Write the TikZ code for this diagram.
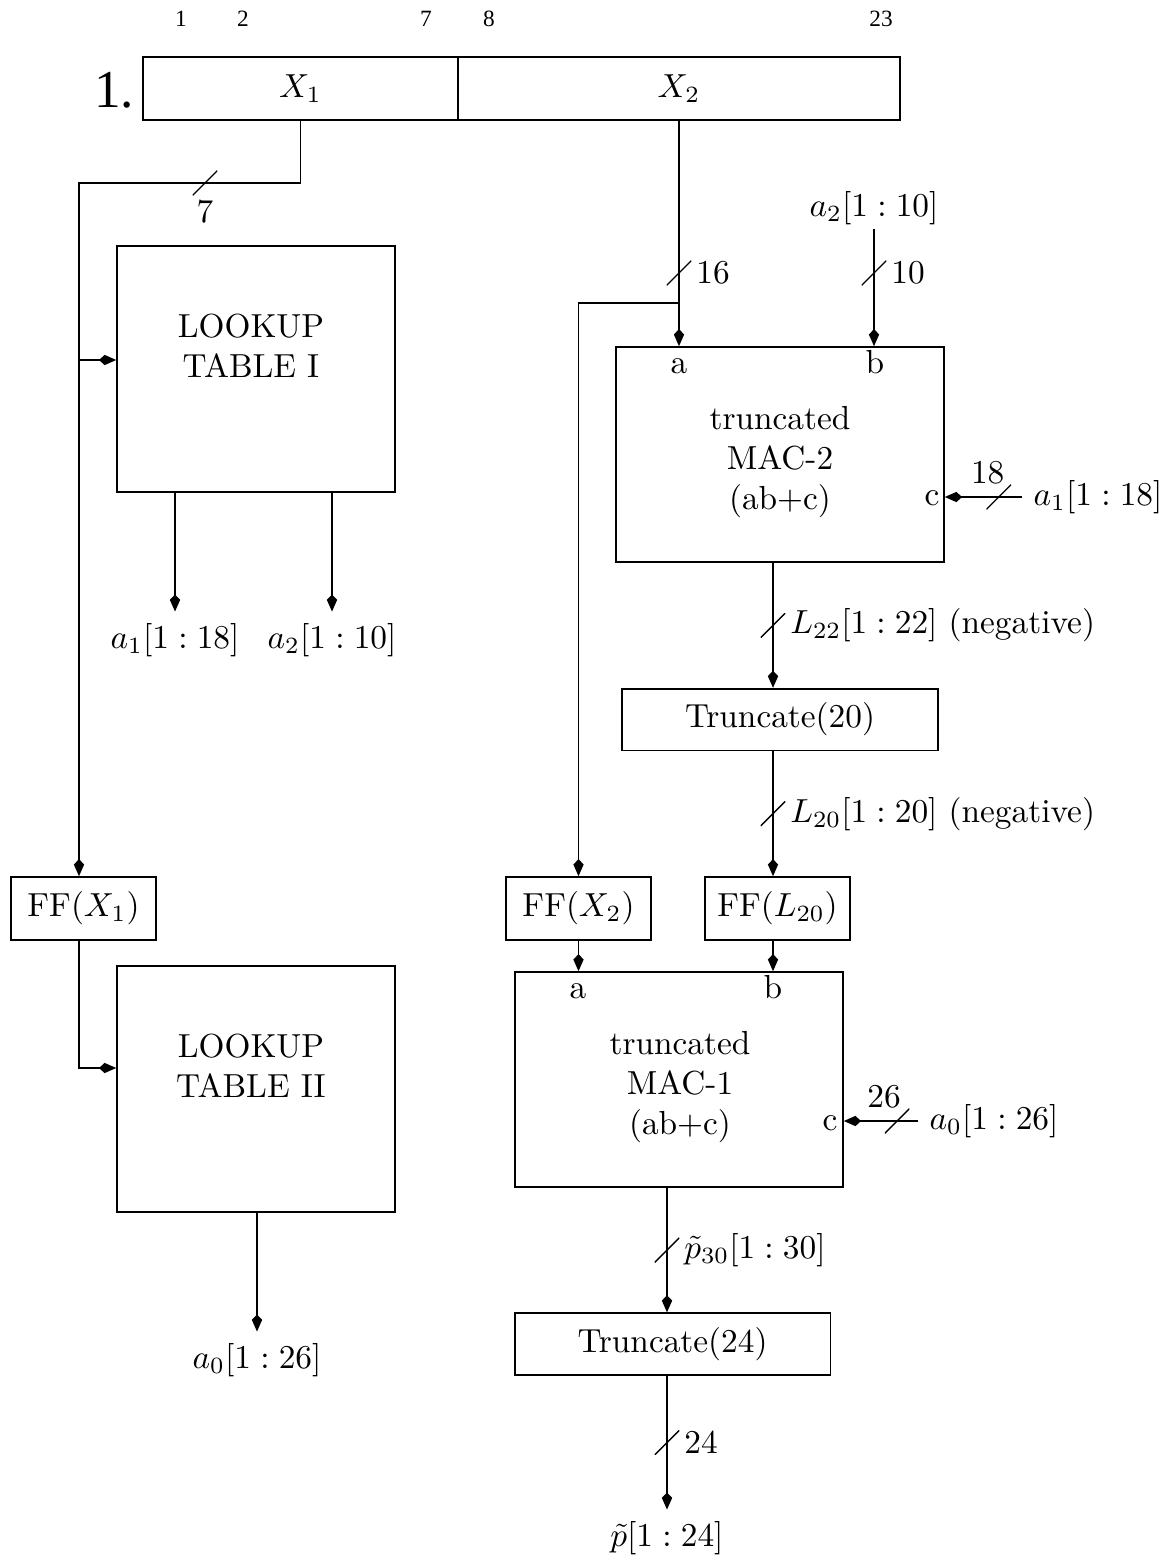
\documentclass[tikz,border=0pt]{standalone}
\usepackage{fontspec}
\newfontfamily\timesfont{Liberation Serif}
\usepackage{tikz}
\usetikzlibrary{arrows.meta, positioning, calc}

\begin{document}
\begin{tikzpicture}[
  x=0.3pt, y=-0.3pt,
  cell/.style={rectangle, draw, line width=0.5pt, outer sep=0pt,
    inner sep=0pt, minimum height=18.9pt},
  lut/.style={rectangle, draw, line width=0.5pt,
    minimum width=83.4pt, minimum height=73.8pt},
  mac/.style={rectangle, draw, line width=0.5pt,
    minimum width=98.4pt, minimum height=64.5pt},
  trunc/.style={rectangle, draw, line width=0.5pt,
    minimum width=94.7pt, minimum height=18.5pt},
  ff/.style={rectangle, draw, line width=0.5pt,
    minimum width=43.5pt, minimum height=18.9pt},
  txt/.style={align=center},
  port/.style={inner sep=0pt, anchor=base},
  lbl/.style={inner sep=1.3pt},
  idx/.style={font=\timesfont\fontsize{7}{8}\selectfont},
  bus/.style={inner sep=0pt, outer sep=0pt, minimum size=7.4pt,
    path picture={\draw[-] (path picture bounding box.south west)
      -- (path picture bounding box.north east);}},
  arr/.style={-{Kite[length=5.1pt, width=3.1pt, inset=1.6pt]}, line width=0.4pt}
]
\useasboundingbox (0,0) rectangle (1173,1564);

%% ── Input word ───────────────────────────────────────────────────────────────
\node[cell, minimum width=94.5pt] (x1) at (300.5,88.5) {$X_1$};
\node[cell, minimum width=132.6pt, right=0pt of x1] (x2) {$X_2$};
\node[font=\timesfont\fontsize{16}{18}\selectfont] (row_num) at (114,90) {1.};
\foreach \xpos/\bit in {181/1, 243/2, 426/7, 489/8, 881/23}
  \node[idx] (bit_\bit) at (\xpos,19) {\bit};

%% ── Column guides ────────────────────────────────────────────────────────────
\coordinate (col_l) at (773,0);
\coordinate (col_p) at (667,0);

%% ── Left: lookup tables ──────────────────────────────────────────────────────
\node[lut] (lut1) at (256,369) {};
\node[txt] (lut1_txt) at (251,346) {LOOKUP\\TABLE I};
\node (a1_out) at (175,640) {$a_1[1:18]$};
\node (a2_out) at (332,640) {$a_2[1:10]$};

\node[ff] (ff_x1) at (83.5,908.5) {FF($X_1$)};

\node[lut] (lut2) at (256,1089) {};
\node[txt] (lut2_txt) at (251,1066) {LOOKUP\\TABLE II};
\node (a0_out) at (257,1360) {$a_0[1:26]$};

\coordinate (bend_x1) at (79,183);
\coordinate (tap_lut1) at (79,360);
\coordinate (tap_lut2) at (79,1068);

\draw[arr] (x1.south) |- (bend_x1) -- (bend_x1 |- ff_x1.north);
\node[bus] (bus_x1) at (205,183) {};
\node[lbl, below=0pt of bus_x1] (lbl_x1) {7};
\draw[arr] (tap_lut1) -- (tap_lut1 -| lut1.west);

\draw[arr] (lut1.south -| a1_out) -- (a1_out.north);
\draw[arr] (lut1.south -| a2_out) -- (a2_out.north);

\draw[arr] (ff_x1.south -| tap_lut2) -- (tap_lut2) -- (tap_lut2 -| lut2.west);
\draw[arr] (lut2.south -| a0_out) -- (a0_out.north);

%% ── Right: MAC-2 ─────────────────────────────────────────────────────────────
\node[mac] (mac2) at (780,454.5) {};
\node[txt] (mac2_txt) at (780,462) {truncated\\MAC-2\\(ab+c)};
\node[port] (mac2_a) at (679,373) {a};
\node[port] (mac2_b) at (875,373) {b};
\node[port] (mac2_c) at (932,505) {c};

\node[inner sep=1pt] (in_a2) at (874,208) {$a_2[1:10]$};
\node (in_a1) at (1098,497) {$a_1[1:18]$};

\draw[arr] (x2.south) -- (x2.south |- mac2.north);
\node[bus] (bus_x2) at (679,273) {};
\node[lbl, right=0pt of bus_x2] (lbl_x2) {16};

\draw[arr] (in_a2.south) -- (in_a2.south |- mac2.north);
\node[bus] (bus_a2) at (in_a2 |- bus_x2) {};
\node[lbl, right=0pt of bus_a2] (lbl_a2) {10};

\draw[arr] (in_a1.west) -- node[bus, pos=0.3] (bus_c2) {} (mac2.east |- in_a1.west);
\node[inner sep=0pt, above=0pt of bus_c2, xshift=-3.3pt] (lbl_c2) {18};

%% ── Truncate(20) ─────────────────────────────────────────────────────────────
\node[trunc] (trunc20) at (780,719.5) {Truncate(20)};

\draw[arr] (mac2.south -| col_l) -- node[bus] (bus_l22) {} (trunc20.north -| col_l);
\node[lbl, right=0pt of bus_l22] (lbl_l22) {$L_{22}[1:22]$ (negative)};

%% ── Registers ────────────────────────────────────────────────────────────────
\node[ff] (ff_x2)  at (578.5,908.5) {FF($X_2$)};
\node[ff] (ff_l20) at (777.5,908.5) {FF($L_{20}$)};

\draw[arr] (trunc20.south -| col_l) -- node[bus] (bus_l20) {} (ff_l20.north -| col_l);
\node[lbl, right=0pt of bus_l20] (lbl_l20) {$L_{20}[1:20]$ (negative)};

\coordinate (tap_x2) at (679,303);
\draw[arr] (tap_x2) -| (ff_x2.north);

%% ── MAC-1 ────────────────────────────────────────────────────────────────────
\node[mac] (mac1) at (679,1079.5) {};
\node[txt] (mac1_txt) at (680,1087) {truncated\\MAC-1\\(ab+c)};
\node[port] (mac1_a) at (578,998) {a};
\node[port] (mac1_b) at (773,998) {b};
\node[port] (mac1_c) at (830,1130) {c};

\node (in_a0) at (994,1121) {$a_0[1:26]$};

\draw[arr] (ff_x2.south) -- (ff_x2.south |- mac1.north);
\draw[arr] (ff_l20.south -| col_l) -- (mac1.north -| col_l);

\draw[arr] (in_a0.west) -- node[bus, pos=0.28] (bus_c1) {} (mac1.east |- in_a0.west);
\node[inner sep=0pt, above=0pt of bus_c1, xshift=-3.9pt] (lbl_c1) {26};

%% ── Truncate(24) and output ──────────────────────────────────────────────────
\node[trunc] (trunc24) at (672.5,1344) {Truncate(24)};
\node (p_out) at (667,1538) {$\tilde{p}[1:24]$};

\draw[arr] (mac1.south -| col_p) -- node[bus] (bus_p30) {} (trunc24.north -| col_p);
\node[lbl, right=0pt of bus_p30] (lbl_p30) {$\tilde{p}_{30}[1:30]$};

\draw[arr] (trunc24.south -| col_p) -- node[bus] (bus_p24) {} (p_out.north);
\node[lbl, right=0pt of bus_p24] (lbl_p24) {24};

\end{tikzpicture}
\end{document}
